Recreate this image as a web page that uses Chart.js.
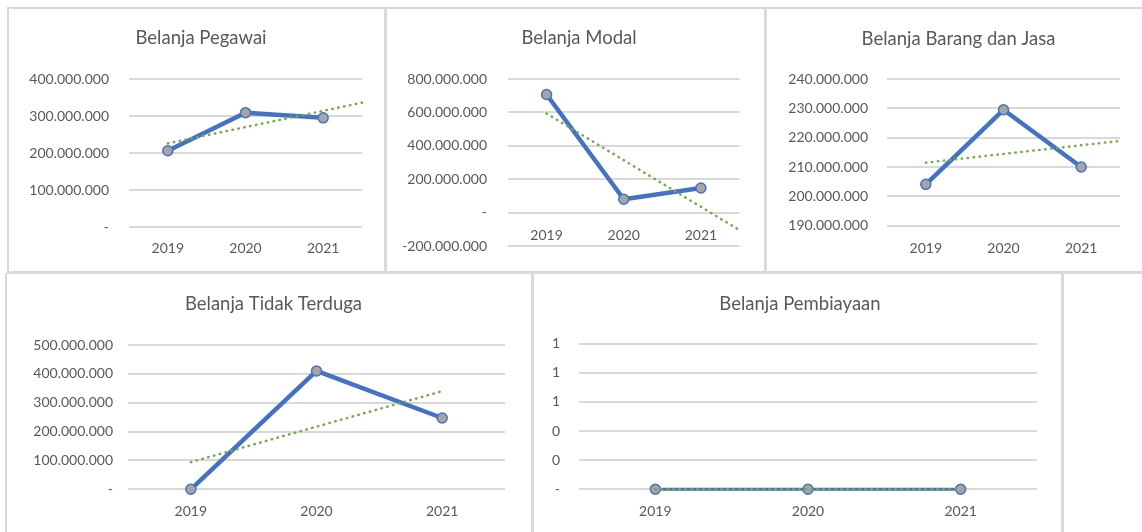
<!DOCTYPE html>
<html>
<head>
<meta charset="utf-8">
<script src="https://cdn.jsdelivr.net/npm/chart.js@4.4.1/dist/chart.umd.min.js"></script>
<style>
html,body{margin:0;padding:0;background:#ffffff;}
body{width:1142px;height:532px;position:relative;overflow:hidden;}
.ln{position:absolute;background:#D9D9D9;}
canvas{position:absolute;}
</style>
</head>
<body>
<!-- panel frames -->
<div class="ln" style="left:7px;top:7px;width:1135px;height:2px"></div>
<div class="ln" style="left:7px;top:7px;width:2px;height:266px"></div>
<div class="ln" style="left:384px;top:7px;width:3px;height:266px"></div>
<div class="ln" style="left:764px;top:7px;width:3px;height:266px"></div>
<div class="ln" style="left:7px;top:271px;width:1135px;height:3px"></div>
<div class="ln" style="left:5px;top:273px;width:2px;height:259px"></div>
<div class="ln" style="left:531px;top:273px;width:3px;height:259px"></div>
<div class="ln" style="left:1061px;top:273px;width:3px;height:259px"></div>

<canvas id="c1"></canvas>
<canvas id="c2"></canvas>
<canvas id="c3"></canvas>
<canvas id="c4"></canvas>
<canvas id="c5"></canvas>

<script>
// ---------- data ----------
const years = ['2019', '2020', '2021'];

const belanjaPegawai      = [206000000, 309000000, 295000000];
const trendPegawai        = [226000000, 336000000];
const axisPegawai         = [0, 400000000, 100000000];

const belanjaModal        = [707000000, 80000000, 147000000];
const trendModal          = [593000000, -105000000];
const axisModal           = [-200000000, 800000000, 200000000];

const belanjaBarangJasa   = [204100000, 229500000, 210000000];
const trendBarangJasa     = [211500000, 218900000];
const axisBarangJasa      = [190000000, 240000000, 10000000];

const belanjaTidakTerduga = [0, 410000000, 247000000];
const trendTidakTerduga   = [94000000, 340000000];
const axisTidakTerduga    = [0, 500000000, 100000000];

const belanjaPembiayaan   = [0, 0, 0];
const trendPembiayaan     = [0, 0];
const axisPembiayaan      = [0, 1, 0.2];

// ---------- styling ----------
const FONT = 'Lato';
const TITLE_SIZE = 18.5;
const TICK_SIZE = 14;
const TEXT_COLOR = '#595959';
const GRID_COLOR = '#D9D9D9';

function fmt(v) {
  if (Math.abs(v) < 1e-9) return '-';
  const r = Math.round(v);
  const s = Math.abs(r).toString().replace(/\B(?=(\d{3})+(?!\d))/g, '.');
  return (r < 0 ? '-' : '') + s;
}

const titleCenterPlugin = {
  id: 'titleCenter',
  afterLayout(chart, args, opts) {
    const t = chart.titleBlock;
    if (t && opts && opts.x != null) {
      const half = 260;
      t.left = opts.x - half;
      t.right = opts.x + half;
      t.width = 2 * half;
    }
  }
};

const specs = [
  { id: 'c1', title: 'Belanja Pegawai', data: belanjaPegawai, trend: trendPegawai, fwd: 0.5, axis: axisPegawai,
    box: {L: 9, T: 9, W: 376, H: 262}, plot: {l: 129, r: 362, t: 79, b: 227},
    titleAt: [201, 38], yLabelRight: 109, xLabelY: 248, zeroAxis: false, lw: 4.5 },
  { id: 'c2', title: 'Belanja Modal', data: belanjaModal, trend: trendModal, fwd: 0.5, axis: axisModal,
    box: {L: 387, T: 9, W: 378, H: 262}, plot: {l: 508, r: 739.5, t: 79, b: 246},
    titleAt: [579, 38], yLabelRight: 487, xLabelY: 235, zeroAxis: true, lw: 4.5 },
  { id: 'c3', title: 'Belanja Barang dan Jasa', data: belanjaBarangJasa, trend: trendBarangJasa, fwd: 0.5, axis: axisBarangJasa,
    box: {L: 768, T: 9, W: 374, H: 262}, plot: {l: 887, r: 1120, t: 79, b: 225.7},
    titleAt: [958.5, 39], yLabelRight: 868, xLabelY: 248, zeroAxis: false, lw: 4.5 },
  { id: 'c4', title: 'Belanja Tidak Terduga', data: belanjaTidakTerduga, trend: trendTidakTerduga, fwd: 0, axis: axisTidakTerduga,
    box: {L: 7, T: 275, W: 524, H: 257}, plot: {l: 128, r: 505, t: 345, b: 489.3},
    titleAt: [273.5, 304], yLabelRight: 113, xLabelY: 511, zeroAxis: false, lw: 4.5 },
  { id: 'c5', title: 'Belanja Pembiayaan', data: belanjaPembiayaan, trend: trendPembiayaan, fwd: 0, axis: axisPembiayaan,
    box: {L: 534, T: 275, W: 527, H: 257}, plot: {l: 579, r: 1037, t: 343.7, b: 489.3},
    titleAt: [800, 304.5], yLabelRight: 560, xLabelY: 511, zeroAxis: false, lw: 3 }
];

function build(s) {
  const c = document.getElementById(s.id);
  const {L, T, W, H} = s.box;
  c.width = W; c.height = H;
  c.style.left = L + 'px'; c.style.top = T + 'px';

  const lh = TITLE_SIZE * 1.2;
  const padTop = s.titleAt[1] - T - lh / 2;
  const padBottom = s.plot.t - T - padTop - lh;

  const yMin = s.axis[0], yMax = s.axis[1];
  let xPad;
  if (s.zeroAxis) {
    const zeroPix = s.plot.t + (yMax - 0) / (yMax - yMin) * (s.plot.b - s.plot.t);
    xPad = s.xLabelY - zeroPix - TICK_SIZE * 0.6;
  } else {
    xPad = s.xLabelY - s.plot.b - TICK_SIZE * 0.6;
  }

  const series = s.data.map((v, i) => ({x: i + 1, y: v}));
  const trend = [{x: 1, y: s.trend[0]}, {x: years.length + s.fwd, y: s.trend[1]}];

  const xScale = {
    type: 'linear', min: 0.5, max: years.length + 0.5,
    position: s.zeroAxis ? {y: 0} : 'bottom',
    grid: {display: false, drawTicks: false},
    border: {display: false},
    afterBuildTicks: ax => { ax.ticks = years.map((_, i) => ({value: i + 1})); },
    ticks: {
      callback: v => years[Math.round(v) - 1],
      color: TEXT_COLOR, font: {family: FONT, size: TICK_SIZE},
      padding: xPad, maxRotation: 0, autoSkip: false
    }
  };
  if (!s.zeroAxis) {
    xScale.afterFit = ax => { ax.height = (T + H) - s.plot.b; };
  }

  new Chart(c, {
    type: 'line',
    data: {
      datasets: [
        { label: 'Linear (' + s.title + ')', data: trend, borderColor: '#70AD47', borderWidth: 2.5,
          borderDash: [0.5, 5.5], borderCapStyle: 'round', pointRadius: 0, fill: false, order: 0, clip: false },
        { label: s.title, data: series, borderColor: '#4472C4', borderWidth: s.lw,
          pointRadius: 5, pointBackgroundColor: '#A5A5A5', pointBorderColor: '#4472C4', pointBorderWidth: 1.5,
          borderJoinStyle: 'round', borderCapStyle: 'round', fill: false, order: 1, clip: false }
      ]
    },
    options: {
      responsive: false, animation: false, events: [],
      layout: {padding: {left: 0, top: 0, right: (L + W) - s.plot.r, bottom: s.zeroAxis ? (T + H) - s.plot.b : 0}},
      plugins: {
        legend: {display: false},
        tooltip: {enabled: false},
        title: {display: true, text: s.title, color: TEXT_COLOR,
                font: {family: FONT, size: TITLE_SIZE, weight: 'normal'},
                padding: {top: padTop, bottom: padBottom}},
        titleCenter: {x: s.titleAt[0] - L}
      },
      scales: {
        x: xScale,
        y: {
          min: yMin, max: yMax,
          ticks: {stepSize: s.axis[2], callback: fmt, color: TEXT_COLOR,
                  font: {family: FONT, size: TICK_SIZE}, padding: 0},
          grid: {color: GRID_COLOR, lineWidth: 2, drawTicks: true,
                 tickLength: s.plot.l - s.yLabelRight, tickColor: 'rgba(0,0,0,0)'},
          border: {display: false},
          afterFit: ax => { ax.width = s.plot.l - L; }
        }
      }
    },
    plugins: [titleCenterPlugin]
  });
}

specs.forEach(build);
</script>
</body>
</html>
